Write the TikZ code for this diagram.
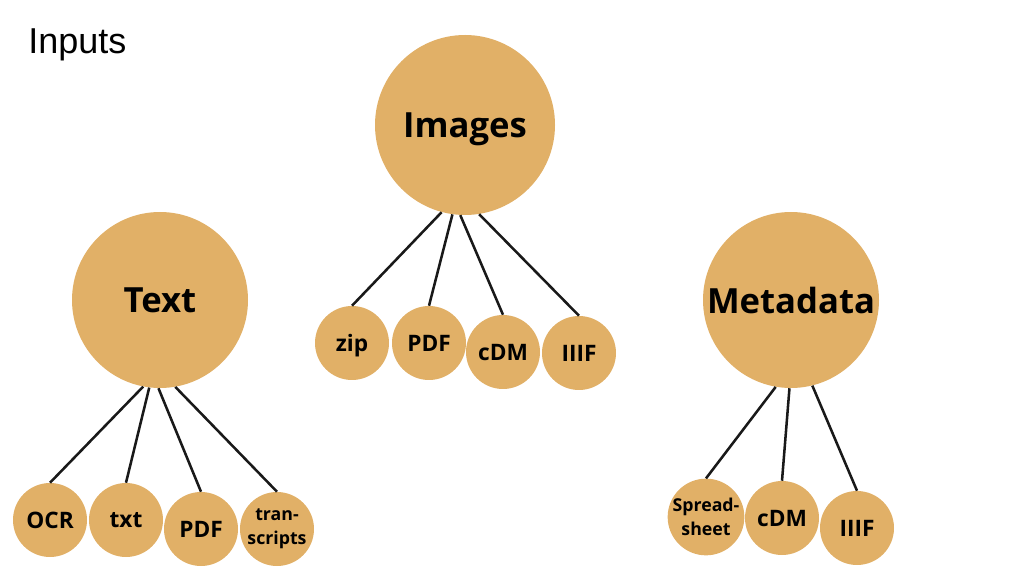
\documentclass[tikz,border=0pt]{standalone}
\usepackage{fontspec}
\setmainfont{Open Sans}
\newfontfamily\titlefont{Liberation Sans}
\definecolor{gold}{HTML}{E1B067}
\begin{document}
\begin{tikzpicture}[x=0.75pt,y=-0.75pt,
  big/.style={circle,fill=gold,inner sep=0pt,minimum size=132pt,text depth=0pt,font=\bfseries\fontsize{26}{28}\selectfont},
  small/.style={circle,fill=gold,inner sep=0pt,minimum size=55.5pt,text depth=0pt,font=\bfseries\fontsize{17}{18}\selectfont},
  tiny/.style={circle,fill=gold,inner sep=0pt,minimum size=55.5pt,align=center,font=\bfseries\fontsize{13.3}{18}\selectfont},
  link/.style={line width=1.9pt,black!90}]
\useasboundingbox (0,0) rectangle (1024,580);
\node[anchor=base west,inner sep=0pt,font=\titlefont\fontsize{27}{30}\selectfont] (title) at (28,54) {Inputs};
% Images
\node[big,minimum size=135pt] (img) at (465,125) {Images};
\node[small] (zip) at (352,343) {zip};
\node[small] (ipdf) at (429,343) {PDF};
\node[small] (icdm) at (503,352) {cDM};
\node[small] (iiiif) at (579,353) {IIIF};
\draw[link] (img.-105) -- (zip.north);
\draw[link] (img.-98) -- (ipdf.north);
\draw[link] (img.-93) -- (icdm.north);
\draw[link] (img.-81) -- (iiiif.north);
% Text
\node[big] (txt) at (160,300) {Text};
\node[small] (ocr) at (50,520) {OCR};
\node[small] (ttxt) at (126,520) {txt};
\node[small] (tpdf) at (201,529) {PDF};
\node[tiny] (trans) at (277,529) {tran-\\scripts};
\draw[link] (txt.-101) -- (ocr.north);
\draw[link] (txt.-97) -- (ttxt.north);
\draw[link] (txt.-91) -- (tpdf.north);
\draw[link] (txt.-80) -- (trans.north);
% Metadata
\node[big] (meta) at (791,300) {Metadata};
\node[tiny] (sheet) at (706,517) {Spread-\\sheet};
\node[small] (mcdm) at (782,518) {cDM};
\node[small] (miiif) at (857,528) {IIIF};
\draw[link] (meta.-100) -- (sheet.north);
\draw[link] (meta.-91) -- (mcdm.north);
\draw[link] (meta.-76) -- (miiif.north);
\end{tikzpicture}
\end{document}
